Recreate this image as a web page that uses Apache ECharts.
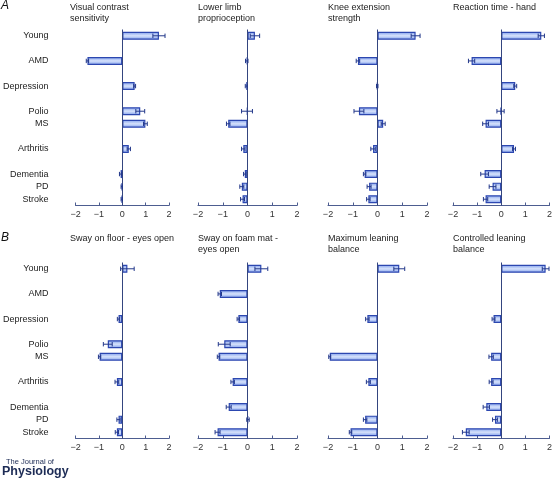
<!DOCTYPE html>
<html><head><meta charset="utf-8">
<script src="https://cdn.jsdelivr.net/npm/echarts@6/dist/echarts.min.js"></script>
<style>html,body{margin:0;padding:0;background:#fff}#c{width:555px;height:480px}</style>
</head><body><div id="c"></div>
<script>
// ---- data ----
const categories = ['Young','AMD','Depression','Polio','MS','Arthritis','Dementia','PD','Stroke'];
const groupSizes = [1,1,1,2,1,3]; // clusters of categories on the y axis
const panelTitles = [
  'Visual contrast\nsensitivity','Lower limb\nproprioception','Knee extension\nstrength','Reaction time - hand',
  'Sway on floor - eyes open','Sway on foam mat -\neyes open','Maximum leaning\nbalance','Controlled leaning\nbalance'
];
const xTicks = [-2,-1,0,1,2];

const visualMean  = [1.57,-1.49,0.53,0.77,0.99,0.28,-0.07,-0.02,-0.02];
const visualSE    = [0.26,0.05,0.04,0.19,0.08,0.07,0.05,0.03,0.03];
const proprioMean = [0.30,-0.03,-0.05,-0.02,-0.78,-0.17,-0.11,-0.23,-0.20];
const proprioSE   = [0.19,0.05,0.04,0.22,0.07,0.07,0.05,0.08,0.08];
const kneeMean    = [1.54,-0.79,-0.01,-0.75,0.23,-0.18,-0.52,-0.34,-0.37];
const kneeSE      = [0.18,0.07,0.03,0.20,0.08,0.09,0.05,0.08,0.07];
const reactMean   = [1.66,-1.23,0.58,-0.03,-0.65,0.53,-0.69,-0.36,-0.65];
const reactSE     = [0.13,0.13,0.06,0.15,0.12,0.06,0.16,0.14,0.09];
const swayFloorMean = [0.22,null,-0.16,-0.62,-0.97,-0.23,null,-0.16,-0.23];
const swayFloorSE   = [0.29,null,0.05,0.19,0.05,0.08,null,0.07,0.07];
const swayFoamMean  = [0.56,-1.12,-0.37,-0.94,-1.17,-0.60,-0.76,0.02,-1.21];
const swayFoamSE    = [0.26,0.07,0.05,0.24,0.05,0.07,0.10,0.05,0.10];
const maxLeanMean   = [0.88,null,-0.41,null,-1.93,-0.37,null,-0.50,-1.09];
const maxLeanSE     = [0.22,null,0.07,null,0.04,0.08,null,0.07,0.05];
const ctrlLeanMean  = [1.84,null,-0.32,null,-0.42,-0.42,-0.62,-0.26,-1.47];
const ctrlLeanSE    = [0.14,null,0.06,null,0.09,0.08,0.13,0.10,0.14];

const panelMeans = [visualMean,proprioMean,kneeMean,reactMean,swayFloorMean,swayFoamMean,maxLeanMean,ctrlLeanMean];
const panelSEs   = [visualSE,proprioSE,kneeSE,reactSE,swayFloorSE,swayFoamSE,maxLeanSE,ctrlLeanSE];

// ---- build y slots (category clusters separated by spacer rows) ----
const slots = []; const slotOfCat = [];
let ci = 0, sp = 0;
groupSizes.forEach((n, gi) => {
  for (let k = 0; k < n; k++) { slotOfCat.push(slots.length); slots.push(categories[ci++]); }
  if (gi < groupSizes.length - 1) { slots.push(' '.repeat(++sp)); }
});

// ---- layout ----
const lefts = [70, 198, 328, 453];
const tops = [29.5, 262.5];
const gridH = 176, gridW = 99;
const FONT = 'Liberation Sans, Arial, sans-serif';
const axisCol = '#4d5d90';
const barBorder = '#2c47b0';
const errCol = '#23388a';

const grids = [], xAxes = [], yAxes = [], series = [], titles = [];
for (let p = 0; p < 8; p++) {
  const col = p % 4, row = Math.floor(p / 4);
  grids.push({left: lefts[col], top: tops[row], width: gridW, height: gridH, containLabel: false});
  xAxes.push({
    type: 'value', gridIndex: p, min: xTicks[0], max: xTicks[xTicks.length-1], interval: 1,
    splitLine: {show: false},
    axisLine: {show: true, onZero: false, lineStyle: {color: axisCol, width: 1}},
    axisTick: {show: true, inside: true, length: 3, lineStyle: {color: axisCol}},
    axisLabel: {fontSize: 9, color: '#333', fontFamily: FONT, margin: 5,
      formatter: v => (v < 0 ? '\u2212' + Math.abs(v) : String(v))}
  });
  yAxes.push({
    type: 'category', gridIndex: p, data: slots, inverse: true,
    axisLine: {show: false}, axisTick: {show: false},
    axisLabel: {show: col === 0, fontSize: 9, color: '#222', fontFamily: FONT, margin: 27}
  });
  const means = panelMeans[p], ses = panelSEs[p];
  const barData = slots.map(() => null);
  const errData = [];
  means.forEach((m, i) => {
    if (m === null) return;
    barData[slotOfCat[i]] = m;
    errData.push([m, slotOfCat[i], ses[i]]);
  });
  series.push({
    type: 'bar', xAxisIndex: p, yAxisIndex: p, data: barData, barWidth: 8, silent: true,
    itemStyle: {
      borderColor: barBorder, borderWidth: 1.2,
      color: {type: 'linear', x: 0, y: 0, x2: 0, y2: 1, colorStops: [
        {offset: 0, color: '#7d9cec'}, {offset: 0.5, color: '#d6e2fb'}, {offset: 1, color: '#7d9cec'}]}
    },
    markLine: {silent: true, symbol: 'none', label: {show: false},
      lineStyle: {color: '#34457f', width: 1, type: 'solid'}, data: [{xAxis: 0}]},
    z: 2
  });
  series.push({
    type: 'custom', xAxisIndex: p, yAxisIndex: p, data: errData, silent: true, z: 5,
    encode: {x: 0, y: 1},
    renderItem: (params, api) => {
      const m = api.value(0), slot = api.value(1), se = api.value(2);
      const a = api.coord([m - se, slot]), b = api.coord([m + se, slot]);
      const h = 2.2;
      const st = {stroke: errCol, lineWidth: 1};
      return {type: 'group', children: [
        {type: 'line', shape: {x1: a[0], y1: a[1], x2: b[0], y2: b[1]}, style: st},
        {type: 'line', shape: {x1: a[0], y1: a[1]-h, x2: a[0], y2: a[1]+h}, style: st},
        {type: 'line', shape: {x1: b[0], y1: b[1]-h, x2: b[0], y2: b[1]+h}, style: st}
      ]};
    }
  });
  titles.push({
    text: panelTitles[p], left: lefts[col], top: row === 0 ? 2 : 233.5, padding: 0,
    textStyle: {fontSize: 9, fontWeight: 'normal', color: '#222', fontFamily: FONT, lineHeight: 11}
  });
}
titles.push({text: 'A', left: 1, top: 0, padding: 0, textStyle: {fontSize: 12, fontStyle: 'italic', fontWeight: 'normal', color: '#111', fontFamily: FONT}});
titles.push({text: 'B', left: 1, top: 232, padding: 0, textStyle: {fontSize: 12, fontStyle: 'italic', fontWeight: 'normal', color: '#111', fontFamily: FONT}});
titles.push({text: 'The Journal of', left: 6, top: 457.5, padding: 0, textStyle: {fontSize: 7.5, fontWeight: 'normal', color: '#1c2b55', fontFamily: FONT}});
titles.push({text: 'Physiology', left: 2, top: 465.5, padding: 0, textStyle: {fontSize: 12.5, fontWeight: 'bold', color: '#1c2b55', fontFamily: FONT}});

const chart = echarts.init(document.getElementById('c'), null, {renderer: 'canvas'});
chart.setOption({
  animation: false, backgroundColor: '#fff',
  title: titles, grid: grids, xAxis: xAxes, yAxis: yAxes, series: series
});
</script></body></html>
